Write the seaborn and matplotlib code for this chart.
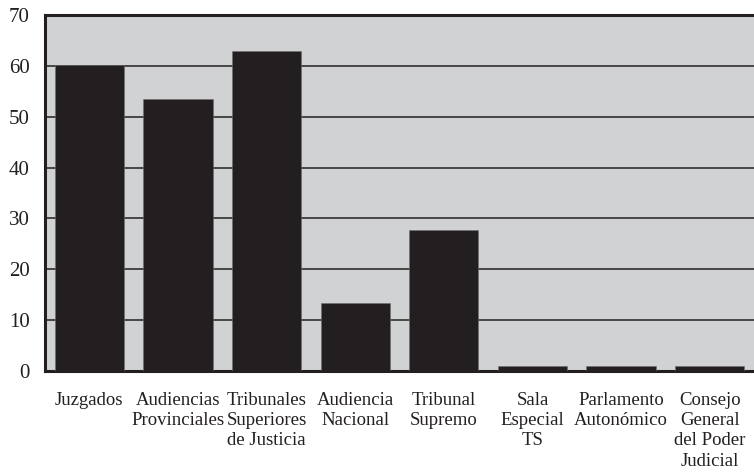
import numpy as np
import matplotlib
matplotlib.use("Agg")
import matplotlib.pyplot as plt
import seaborn as sns
import pandas as pd

categories = ["Juzgados", "Audiencias\nProvinciales", "Tribunales\nSuperiores\nde Justicia",
              "Audiencia\nNacional", "Tribunal\nSupremo", "Sala\nEspecial\nTS",
              "Parlamento\nAutonómico", "Consejo\nGeneral\ndel Poder\nJudicial"]
values = [60.2, 53.5, 63.0, 13.3, 27.8, 0.9, 0.9, 0.9]
yticks = [0, 10, 20, 30, 40, 50, 60, 70]

sns.set_style("white")
plt.rcParams['font.family'] = ['Liberation Serif', 'DejaVu Serif']

df = pd.DataFrame({"cat": categories, "val": values})

fig = plt.figure(figsize=(7.54, 4.74), dpi=100)
ax = fig.add_axes([45 / 754, 1 - 371 / 474, 1 - 45 / 754, (371 - 15) / 474])
ax.set_facecolor("#d1d2d4")

sns.barplot(data=df, x="cat", y="val", color="#231f20", width=0.78,
            saturation=1, ax=ax, zorder=3, edgecolor="#6d6e70", linewidth=0.4)

ax.set_ylim(0, 70)
ax.set_xlim(-0.5, 7.46)
ax.set_yticks(yticks)
ax.set_yticklabels([str(t) for t in yticks], fontsize=15, color="#231f20")
ax.yaxis.grid(True, color="#231f20", linewidth=1.1, zorder=1)
ax.set_axisbelow(True)
ax.tick_params(axis="y", length=0, pad=11)

ax.set_xticks(np.arange(len(categories)))
ax.set_xticklabels(categories, fontsize=13.5, linespacing=1.25, va="top", color="#231f20")
ax.tick_params(axis="x", length=0, pad=15)
ax.set_xticks(np.arange(len(categories)) + 0.5, minor=True)
ax.tick_params(axis="x", which="minor", direction="in", length=4, width=1, color="#231f20")

for side in ["top", "left", "bottom"]:
    ax.spines[side].set_linewidth(2.2)
    ax.spines[side].set_color("#231f20")
ax.spines["right"].set_visible(False)

ax.set_xlabel("")
ax.set_ylabel("")

fig.savefig("out.png", dpi=100)
